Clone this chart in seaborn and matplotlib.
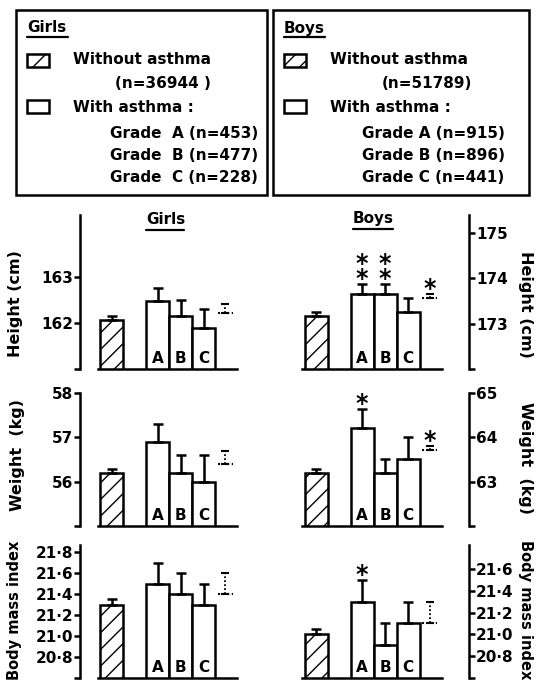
import numpy as np
import matplotlib
matplotlib.use('Agg')
import matplotlib.pyplot as plt
import seaborn as sns
from matplotlib.patches import Rectangle
from matplotlib.lines import Line2D

sns.set_style('ticks')
plt.rcParams['font.family'] = ['DejaVu Sans']
plt.rcParams['font.weight'] = 'bold'
plt.rcParams['hatch.linewidth'] = 1.0
for k in ['text.color', 'axes.labelcolor', 'xtick.color', 'ytick.color', 'axes.edgecolor']:
    plt.rcParams[k] = 'black'

#%% Data
grades = ['', 'A', 'B', 'C']
bar_pos = [0, 2, 3, 4]
all_pos = 4.95

height_girls = [162.07, 162.48, 162.16, 161.89]
height_girls_err = [0.09, 0.28, 0.34, 0.41]
height_girls_all = [162.22, 0.19]
height_boys = [173.17, 173.65, 173.65, 173.26]
height_boys_err = [0.09, 0.22, 0.22, 0.31]
height_boys_all = [173.56, 0.09]
height_boys_stars = ['', '**', '**', '']

weight_girls = [56.2, 56.9, 56.2, 56.0]
weight_girls_err = [0.08, 0.4, 0.4, 0.6]
weight_girls_all = [56.4, 0.3]
weight_boys = [63.2, 64.2, 63.2, 63.52]
weight_boys_err = [0.09, 0.43, 0.32, 0.48]
weight_boys_all = [63.72, 0.08]
weight_boys_stars = ['', '*', '', '']

bmi_girls = [21.3, 21.5, 21.4, 21.3]
bmi_girls_err = [0.05, 0.2, 0.2, 0.2]
bmi_girls_all = [21.4, 0.2]
bmi_boys = [21.0, 21.3, 20.9, 21.1]
bmi_boys_err = [0.05, 0.2, 0.2, 0.2]
bmi_boys_all = [21.1, 0.2]
bmi_boys_stars = ['', '*', '', '']

height_girls_ticks = [161, 162, 163]
height_girls_labels = ['', '162', '163']
height_boys_ticks = [172, 173, 174, 175]
height_boys_labels = ['', '173', '174', '175']
weight_girls_ticks = [55, 56, 57, 58]
weight_girls_labels = ['', '56', '57', '58']
weight_boys_ticks = [62, 63, 64, 65]
weight_boys_labels = ['', '63', '64', '65']
bmi_girls_ticks = [20.6, 20.8, 21.0, 21.2, 21.4, 21.6, 21.8]
bmi_girls_labels = ['', '20·8', '21·0', '21·2', '21·4', '21·6', '21·8']
bmi_boys_ticks = [20.6, 20.8, 21.0, 21.2, 21.4, 21.6]
bmi_boys_labels = ['', '20·8', '21·0', '21·2', '21·4', '21·6']

W, H = 536, 682
fig = plt.figure(figsize=(W / 100, H / 100), dpi=100)


def fx(px):
    return px / W


def fy(py):
    return 1 - py / H


def make_ax(x0, x1, y0, y1):
    return fig.add_axes([fx(x0), fy(y1), fx(x1) - fx(x0), (y1 - y0) / H])


def panel(ax, means, errs, overall, ticks, labels, ylim, side, stars=None, all_star=''):
    sns.barplot(x=bar_pos, y=means, native_scale=True, width=1, color='white',
                edgecolor='black', linewidth=1.8, ax=ax)
    ax.patches[0].set_hatch('//')
    ax.errorbar(bar_pos, means, yerr=[np.zeros(len(means)), errs], fmt='none',
                ecolor='black', elinewidth=1.8, capsize=3.5, capthick=1.8)
    eb = ax.errorbar([all_pos], [overall[0]], yerr=[[0], [overall[1]]], fmt='none',
                     ecolor='black', elinewidth=1.3, capsize=3, capthick=1.5)
    eb[2][0].set_linestyle((0, (1, 1.2)))
    ax.hlines(overall[0], all_pos - 0.33, all_pos + 0.33, colors='black',
              linestyles=(0, (1, 1.2)), lw=1.5)
    for p, g in zip(bar_pos, grades):
        if g:
            ax.annotate(g, (p, ylim[0]), xytext=(0, 2), textcoords='offset points',
                        ha='center', va='bottom', fontsize=11, fontweight='bold')
    if stars:
        for p, m, e, s in zip(bar_pos, means, errs, stars):
            if s:
                ax.annotate('\n'.join(s), (p, m + e), xytext=(0, -5), textcoords='offset points',
                            ha='center', va='bottom', fontsize=17, linespacing=0.55)
    if all_star:
        ax.annotate(all_star, (all_pos, overall[0] + overall[1]), xytext=(0, -5),
                    textcoords='offset points', ha='center', va='bottom', fontsize=17)
    ax.set_ylim(*ylim)
    ax.set_yticks(ticks)
    ax.set_yticklabels(labels, fontsize=11, fontweight='bold')
    ax.set_xticks([])
    ax.set_xlabel('')
    ax.set_ylabel('')
    ax.spines['top'].set_visible(False)
    ax.spines['bottom'].set_bounds(-0.59, 5.46)
    for s in ax.spines.values():
        s.set_linewidth(1.8)
    ax.tick_params(axis='y', width=1.8, length=4, pad=1)
    if side == 'left':
        ax.spines['right'].set_visible(False)
        ax.set_xlim(-1.37, -1.37 + 160 / 23)
    else:
        ax.spines['left'].set_visible(False)
        ax.yaxis.tick_right()
        ax.set_xlim(6.65 - 179 / 23, 6.65)


rows = [(215, 369), (393, 526), (545, 678)]

ax = make_ax(80, 240, *rows[0])
panel(ax, height_girls, height_girls_err, height_girls_all,
      height_girls_ticks, height_girls_labels, (161, 164.35), 'left')
ax = make_ax(290, 469, *rows[0])
panel(ax, height_boys, height_boys_err, height_boys_all,
      height_boys_ticks, height_boys_labels, (172, 175.4), 'right', height_boys_stars, '*')

ax = make_ax(80, 240, *rows[1])
panel(ax, weight_girls, weight_girls_err, weight_girls_all,
      weight_girls_ticks, weight_girls_labels, (55, 58), 'left')
ax = make_ax(290, 469, *rows[1])
panel(ax, weight_boys, weight_boys_err, weight_boys_all,
      weight_boys_ticks, weight_boys_labels, (62, 65), 'right', weight_boys_stars, '*')

ax = make_ax(80, 240, *rows[2])
panel(ax, bmi_girls, bmi_girls_err, bmi_girls_all,
      bmi_girls_ticks, bmi_girls_labels, (20.6, 21.87), 'left')
ax = make_ax(290, 469, *rows[2])
panel(ax, bmi_boys, bmi_boys_err, bmi_boys_all,
      bmi_boys_ticks, bmi_boys_labels, (20.6, 21.82), 'right', bmi_boys_stars, '')

# axis titles
lab = dict(fontsize=11.5, fontweight='bold', va='center', ha='center')
fig.text(fx(16), fy(304), 'Height (cm)', rotation=90, **lab)
fig.text(fx(525), fy(304), 'Height (cm)', rotation=270, **lab)
fig.text(fx(18), fy(455), 'Weight  (kg)', rotation=90, **lab)
fig.text(fx(526), fy(458), 'Weight  (kg)', rotation=270, **lab)
lab['fontsize'] = 10.5
fig.text(fx(15), fy(610), 'Body mass index', rotation=90, **lab)
fig.text(fx(526), fy(610), 'Body mass index', rotation=270, **lab)


def underlined(x, y, s, x0, x1, yl):
    fig.text(fx(x), fy(y), s, fontsize=11, fontweight='bold', ha='left', va='center')
    fig.add_artist(Line2D([fx(x0), fx(x1)], [fy(yl), fy(yl)], color='black', lw=1.6))


underlined(146, 220, 'Girls', 146, 184, 230)
underlined(353, 219, 'Boys', 353, 393, 229)

# legend boxes
for (bx0, bx1, title, n_all, ns, xw, xn, xg) in [
        (16, 267, 'Girls', '(n=36944 )', ['Grade  A (n=453)', 'Grade  B (n=477)', 'Grade  C (n=228)'], 73, 115, 110),
        (273, 529, 'Boys', '(n=51789)', ['Grade A (n=915)', 'Grade B (n=896)', 'Grade C (n=441)'], 330, 382, 362)]:
    fig.add_artist(Rectangle((fx(bx0), fy(195)), fx(bx1) - fx(bx0), fy(10) - fy(195),
                             transform=fig.transFigure, fill=False, ec='black', lw=1.8))
    sx = bx0 + 11
    fig.text(fx(sx), fy(28), title, fontsize=11, fontweight='bold', ha='left', va='center')
    fig.add_artist(Line2D([fx(sx), fx(sx + 41)], [fy(37), fy(37)], color='black', lw=1.6))
    fig.add_artist(Rectangle((fx(sx), fy(67)), fx(22), fy(54) - fy(67), transform=fig.transFigure,
                             fc='white', ec='black', lw=1.8, hatch='//'))
    fig.add_artist(Rectangle((fx(sx), fy(113)), fx(22), fy(100) - fy(113), transform=fig.transFigure,
                             fc='white', ec='black', lw=1.8))
    t = dict(fontsize=11, fontweight='bold', ha='left', va='center')
    fig.text(fx(xw), fy(60), 'Without asthma', **t)
    fig.text(fx(xn), fy(83), n_all, **t)
    fig.text(fx(xw), fy(107), 'With asthma :', **t)
    for k, s in enumerate(ns):
        fig.text(fx(xg), fy(134 + 21.5 * k), s, **t)

fig.savefig('out.png', dpi=100)
